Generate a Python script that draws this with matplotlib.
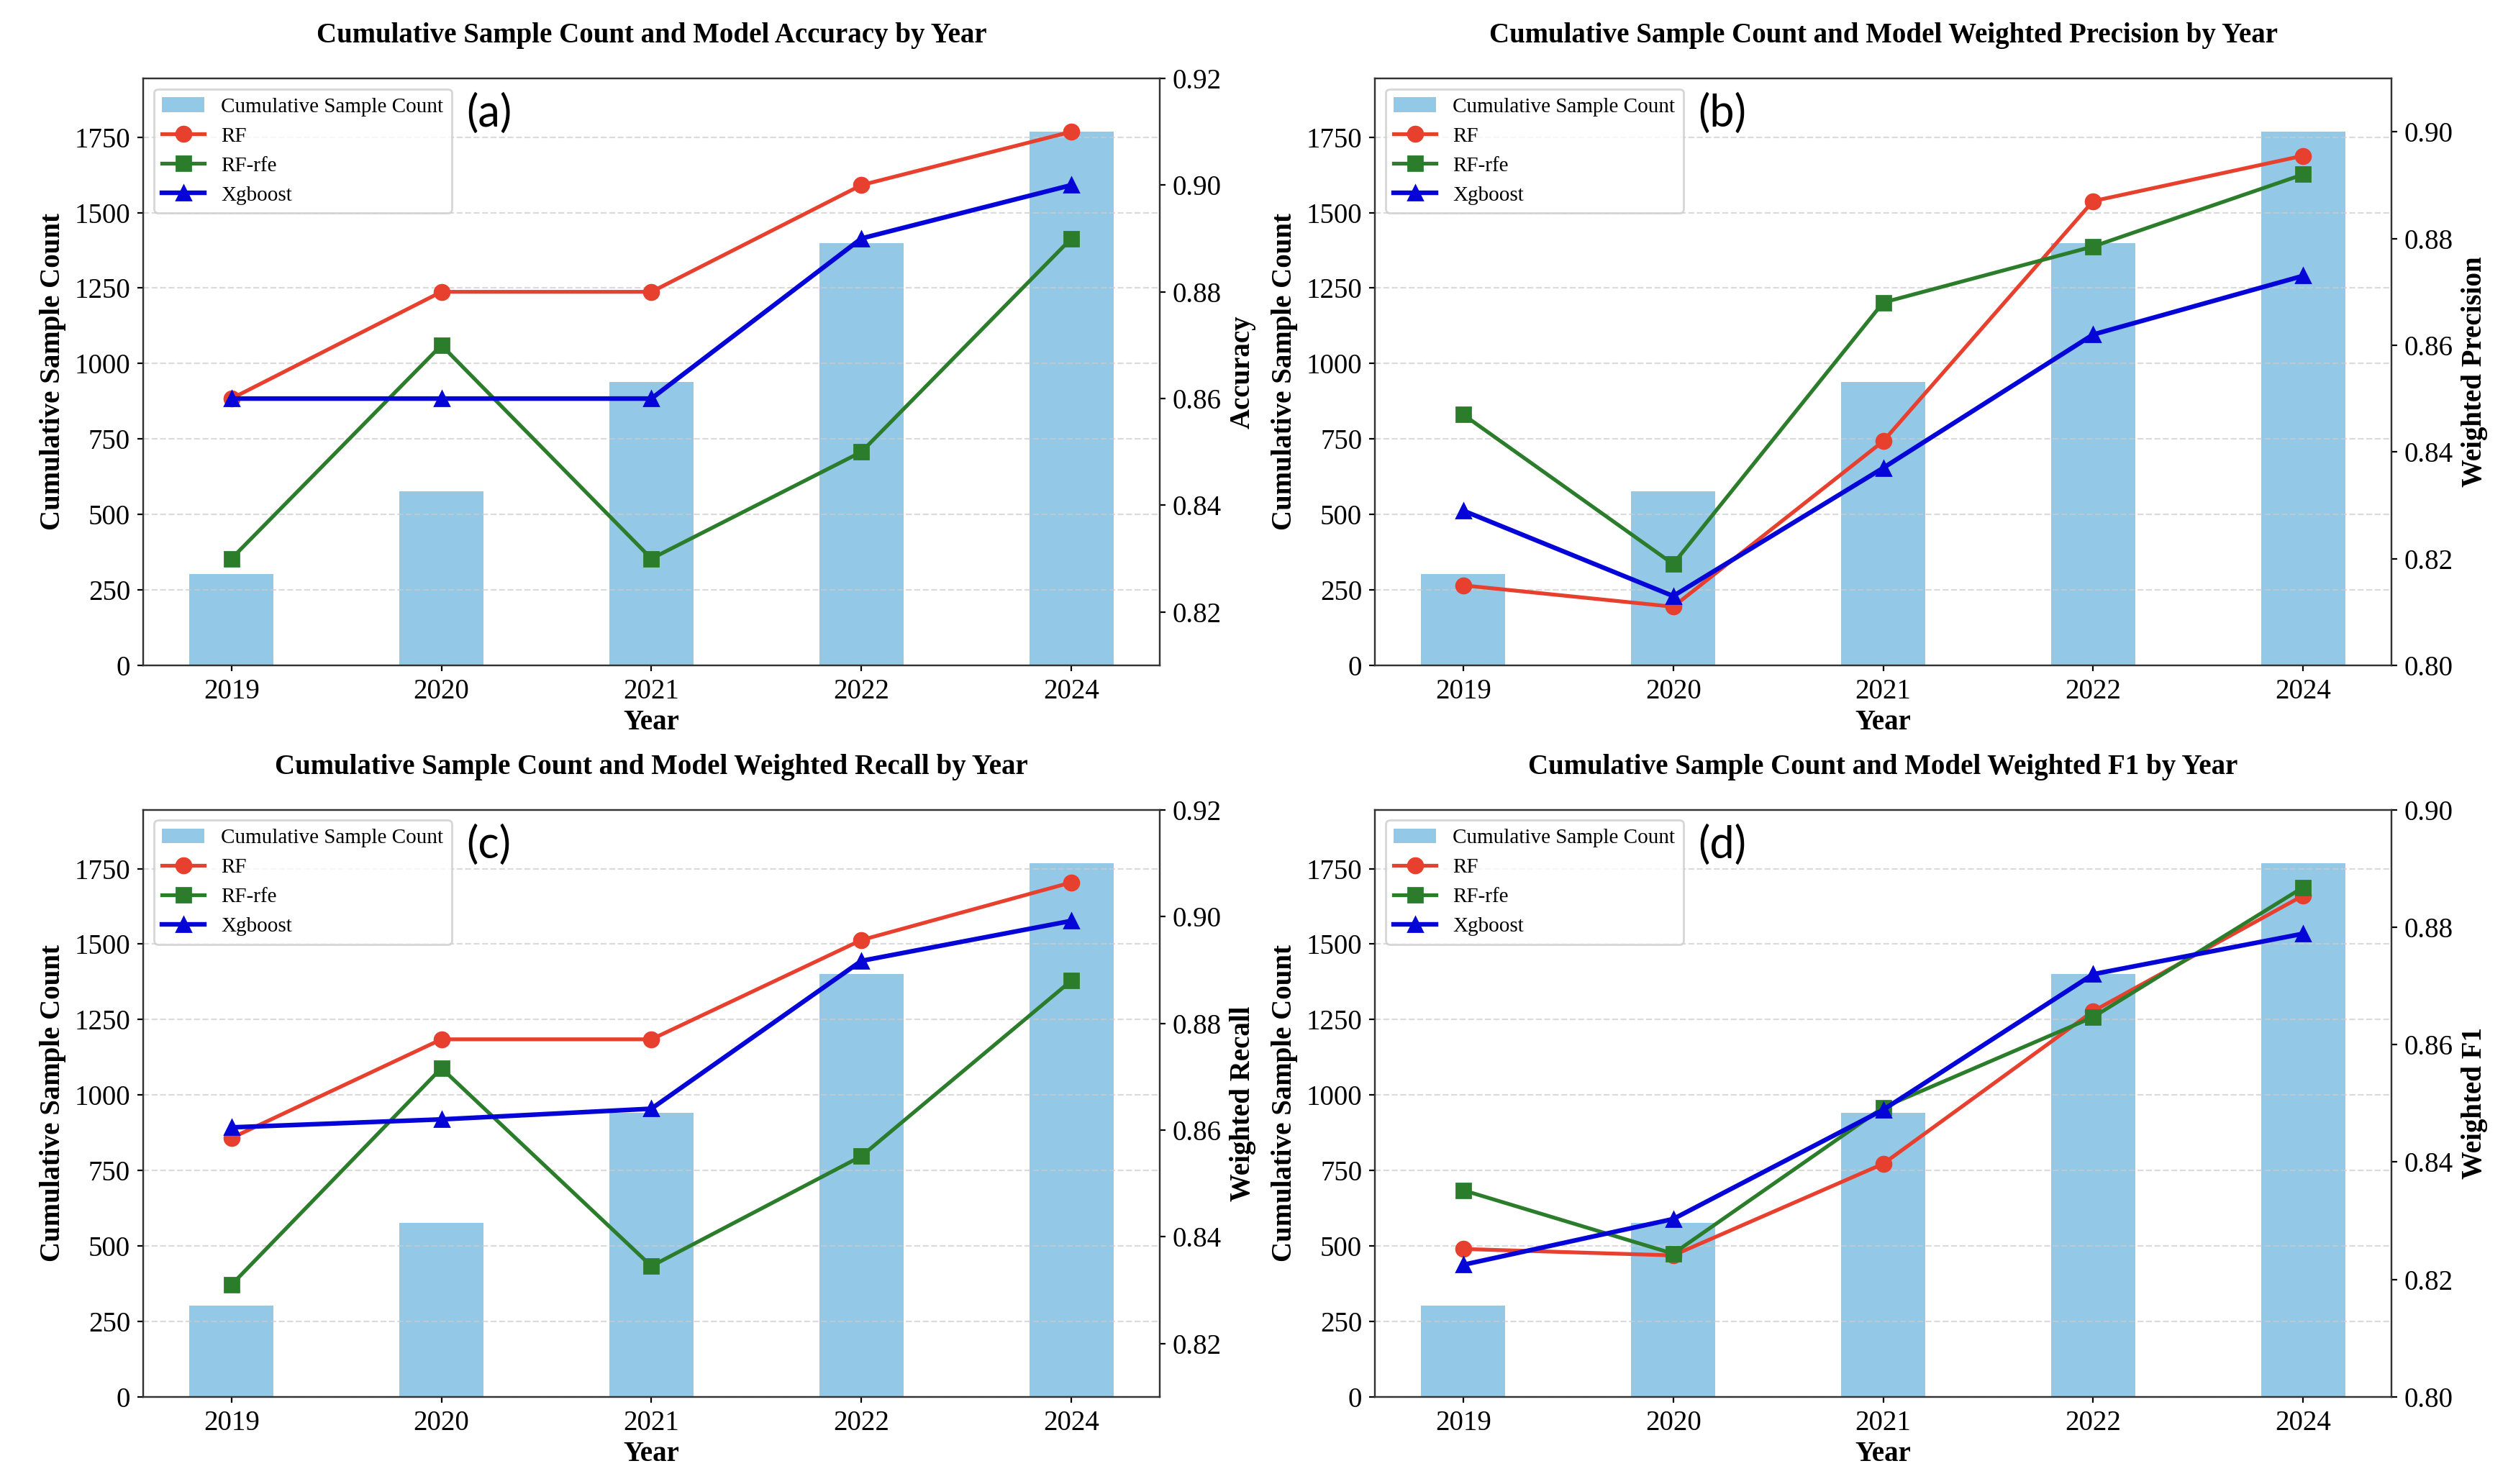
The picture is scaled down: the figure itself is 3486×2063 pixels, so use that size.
import numpy as np
import matplotlib
matplotlib.use("Agg")
import matplotlib.pyplot as plt

plt.rcParams['font.family'] = ['Liberation Serif', 'DejaVu Serif']

# data
years = ['2019', '2020', '2021', '2022', '2024']
sample_count = [303, 577, 940, 1400, 1768]

acc_rf = [0.860, 0.880, 0.880, 0.900, 0.910]
acc_rfe = [0.830, 0.870, 0.830, 0.850, 0.890]
acc_xgb = [0.860, 0.860, 0.860, 0.890, 0.900]

prec_rf = [0.815, 0.811, 0.842, 0.887, 0.8955]
prec_rfe = [0.847, 0.819, 0.868, 0.8785, 0.892]
prec_xgb = [0.829, 0.813, 0.837, 0.862, 0.873]

rec_rf = [0.8585, 0.877, 0.877, 0.8956, 0.9064]
rec_rfe = [0.831, 0.8716, 0.8345, 0.8551, 0.888]
rec_xgb = [0.8605, 0.862, 0.864, 0.8917, 0.8992]

f1_rf = [0.8252, 0.8241, 0.8397, 0.8657, 0.8854]
f1_rfe = [0.8352, 0.8244, 0.8493, 0.8647, 0.8868]
f1_xgb = [0.8225, 0.8303, 0.8489, 0.872, 0.8789]

panels = [
    ('Accuracy', 'Accuracy', acc_rf, acc_rfe, acc_xgb, (0.81, 0.92), '(a)'),
    ('Weighted Precision', 'Weighted Precision', prec_rf, prec_rfe, prec_xgb, (0.80, 0.91), '(b)'),
    ('Weighted Recall', 'Weighted Recall', rec_rf, rec_rfe, rec_xgb, (0.81, 0.92), '(c)'),
    ('Weighted F1', 'Weighted F1', f1_rf, f1_rfe, f1_xgb, (0.80, 0.90), '(d)'),
]

bar_color = '#93c8e6'
c_rf = '#e8402e'
c_rfe = '#2b7d2b'
c_xgb = '#0505d8'

fig, axes = plt.subplots(2, 2, figsize=(17.435, 10.315), dpi=200)
fig.subplots_adjust(left=0.0571, right=0.9532, top=0.9472, bottom=0.0587,
                    wspace=0.212, hspace=0.246)

x = np.arange(len(years))
for ax, (name, rlabel, rf, rfe, xgb, rlim, tag) in zip(axes.flat, panels):
    bars = ax.bar(x, sample_count, width=0.4, color=bar_color,
                  label='Cumulative Sample Count')
    ax.set_ylim(0, max(sample_count) * 1.1)
    ax.set_yticks(np.arange(0, 1751, 250))
    ax.set_xticks(x)
    ax.set_xticklabels(years)
    ax.tick_params(labelsize=14, length=3)
    ax.grid(axis='y', linestyle='--', color='#cccccc', alpha=0.7)
    ax.set_xlabel('Year', fontsize=14, fontweight='bold', labelpad=2)
    ax.set_ylabel('Cumulative Sample Count', fontsize=14, fontweight='bold')
    ax.set_title(f'Cumulative Sample Count and Model {name} by Year',
                 fontsize=14, fontweight='bold', pad=18)
    for s in ax.spines.values():
        s.set_color('#333333')

    ax2 = ax.twinx()
    l1, = ax2.plot(x, rf, color=c_rf, marker='o', markersize=7.5, lw=1.9, label='RF')
    l2, = ax2.plot(x, rfe, color=c_rfe, marker='s', markersize=7.5, lw=1.9, label='RF-rfe')
    l3, = ax2.plot(x, xgb, color=c_xgb, marker='^', markersize=7.5, lw=2.3, label='Xgboost')
    ax2.set_yticks(np.arange(0.80, 0.921, 0.02))
    ax2.set_ylim(*rlim)
    ax2.yaxis.set_major_formatter(matplotlib.ticker.FormatStrFormatter('%.2f'))
    ax2.tick_params(labelsize=14, length=3)
    ax2.set_ylabel(rlabel, fontsize=14, fontweight='bold')
    for s in ax2.spines.values():
        s.set_color('#333333')

    ax2.legend(handles=[bars, l1, l2, l3], loc='upper left', fontsize=10.5,
               edgecolor='#cccccc')
    ax2.text(0.318, 0.94, tag, transform=ax.transAxes, fontsize=22,
             family=['Lato', 'DejaVu Sans'], va='center', ha='left')

fig.savefig('out.png', dpi=200)
